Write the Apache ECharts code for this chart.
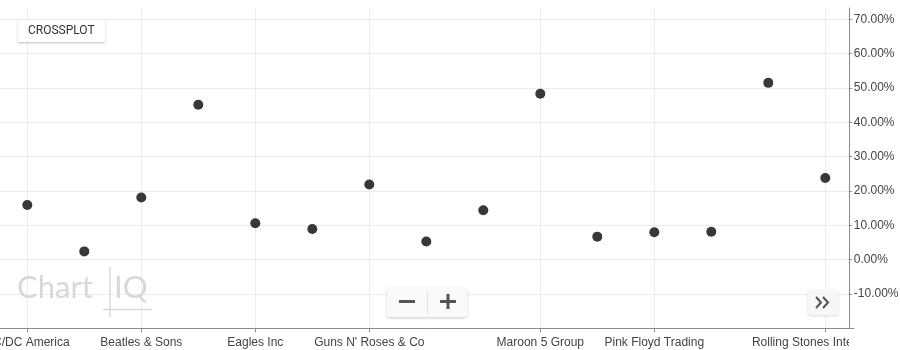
<!DOCTYPE html>
<html>
<head>
<meta charset="utf-8">
<script src="https://cdn.jsdelivr.net/npm/echarts@6/dist/echarts.min.js"></script>
<style>
html,body{margin:0;padding:0;background:#fff;}
#chart{width:900px;height:350px;}
</style>
</head>
<body>
<div id="chart"></div>
<script>
// ---- data ----
var categories = [
  "AC/DC America", "Aerosmith Ltd", "Beatles & Sons", "Cream Holdings",
  "Eagles Inc", "Foo Fighters Corp", "Guns N' Roses & Co", "Heart Partners",
  "Kiss Industries", "Maroon 5 Group", "Nirvana Capital", "Pink Floyd Trading",
  "Queen Enterprises", "Radiohead LLC", "Rolling Stones International"
];
var values = [15.9, 2.4, 18.1, 45.1, 10.6, 8.9, 21.9, 5.3, 14.4, 48.3, 6.7, 8.0, 8.1, 51.5, 23.8];
var labelledIdx = [0, 2, 4, 6, 9, 11, 14];
var yTicks = { min: -20, max: 73.3, interval: 10 };
var buttonLabel = "CROSSPLOT";

var FONT = "'Liberation Sans', Arial, sans-serif";
var chart = echarts.init(document.getElementById('chart'), null, { renderer: 'canvas' });
function shown(i) { return labelledIdx.indexOf(i) >= 0; }

chart.setOption({
  animation: false,
  backgroundColor: '#ffffff',
  grid: { left: -1.2, top: 8, width: 855, height: 320.3, containLabel: false, outerBoundsMode: 'none' },
  xAxis: {
    type: 'category',
    data: categories,
    boundaryGap: true,
    axisLine: { show: true, onZero: false, lineStyle: { color: '#8a8a8a', width: 1 } },
    axisTick: { show: true, alignWithLabel: true, length: 4, interval: function (i) { return shown(i); }, lineStyle: { color: '#8a8a8a' } },
    axisLabel: { interval: function (i) { return shown(i); }, margin: 8, color: '#444', fontSize: 12, fontFamily: FONT, hideOverlap: false },
    splitLine: { show: true, alignWithLabel: true, interval: function (i) { return shown(i); }, lineStyle: { color: '#ececec', width: 1 } }
  },
  yAxis: {
    type: 'value',
    position: 'right',
    offset: -5,
    min: yTicks.min, max: yTicks.max, interval: yTicks.interval,
    axisLine: { show: true, lineStyle: { color: '#8a8a8a', width: 1 } },
    axisTick: { show: true, length: 3, lineStyle: { color: '#8a8a8a' } },
    axisLabel: {
      margin: 5, color: '#444', fontSize: 12, fontFamily: FONT,
      showMinLabel: false, showMaxLabel: false,
      formatter: function (v) { return v.toFixed(2) + '%'; }
    },
    splitLine: { show: true, showMinLine: false, showMaxLine: false, lineStyle: { color: '#ececec', width: 1 } }
  },
  series: [{
    type: 'scatter',
    data: values,
    symbol: 'circle',
    symbolSize: 10,
    itemStyle: { color: '#383838', opacity: 1 },
    z: 5
  }],
  graphic: [
    // clip the overflowing last x label at the y axis
    { type: 'rect', shape: { x: 849, y: 331, width: 51, height: 19 }, style: { fill: '#fff' }, z: 100 },
    // CROSSPLOT button
    { type: 'rect', shape: { x: 18, y: 20, width: 87, height: 22 }, style: { fill: '#fff', shadowBlur: 2, shadowOffsetY: 1, shadowColor: 'rgba(0,0,0,0.25)' }, z: 50 },
    { type: 'text', x: 28, y: 31, style: { text: buttonLabel, font: "12px Roboto, sans-serif", fill: '#333', verticalAlign: 'middle' }, z: 51 },
    // ChartIQ watermark
    { type: 'text', x: 17, y: 288, style: { text: 'Chart', font: "31px Lato, 'Open Sans', sans-serif", fill: '#d8d8d8', verticalAlign: 'middle' }, z: 40 },
    { type: 'text', x: 114, y: 288, style: { text: 'IQ', font: "31px Lato, 'Open Sans', sans-serif", fill: '#d8d8d8', verticalAlign: 'middle' }, z: 40 },
    { type: 'line', shape: { x1: 110, y1: 267, x2: 110, y2: 317 }, style: { stroke: '#d8d8d8', lineWidth: 1.5 }, z: 40 },
    { type: 'line', shape: { x1: 103, y1: 309.5, x2: 152, y2: 309.5 }, style: { stroke: '#d8d8d8', lineWidth: 1.5 }, z: 40 },
    // zoom buttons
    { type: 'rect', shape: { x: 387, y: 288, width: 80, height: 29, r: 3 }, style: { fill: '#fafafa', shadowBlur: 3, shadowOffsetY: 1, shadowColor: 'rgba(0,0,0,0.2)' }, z: 50 },
    { type: 'line', shape: { x1: 427.5, y1: 291, x2: 427.5, y2: 314 }, style: { stroke: '#e2e2e2', lineWidth: 1 }, z: 51 },
    { type: 'rect', shape: { x: 399, y: 300, width: 16, height: 3 }, style: { fill: '#555' }, z: 51 },
    { type: 'rect', shape: { x: 440, y: 300, width: 16, height: 3 }, style: { fill: '#555' }, z: 51 },
    { type: 'rect', shape: { x: 446.5, y: 294, width: 3, height: 15 }, style: { fill: '#555' }, z: 51 },
    // >> button
    { type: 'rect', shape: { x: 808, y: 290, width: 30, height: 25, r: 3 }, style: { fill: '#f7f7f7', shadowBlur: 3, shadowOffsetY: 1, shadowColor: 'rgba(0,0,0,0.15)' }, z: 50 },
    { type: 'polyline', shape: { points: [[816, 297], [821, 302.5], [816, 308]] }, style: { stroke: '#555', lineWidth: 2, fill: null }, z: 51 },
    { type: 'polyline', shape: { points: [[823, 297], [828, 302.5], [823, 308]] }, style: { stroke: '#555', lineWidth: 2, fill: null }, z: 51 }
  ]
});
</script>
</body>
</html>
